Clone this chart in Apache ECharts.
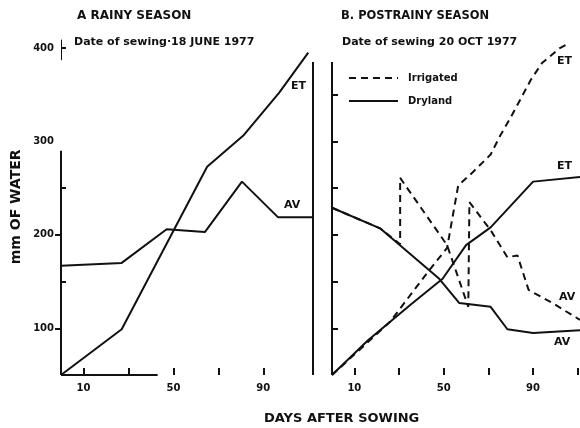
<!DOCTYPE html>
<html>
<head>
<meta charset="utf-8">
<script src="https://cdn.jsdelivr.net/npm/echarts@6/dist/echarts.min.js"></script>
<style>
  html, body { margin: 0; padding: 0; background: #fff; }
  #chart { width: 580px; height: 428px; }
</style>
</head>
<body>
<div id="chart"></div>
<script>
// A: rainy season, [day, mm]
var rainyET = [[0, 50], [27, 99], [65, 273], [81, 306], [97, 352], [110, 395]];
var rainyAV = [[0, 167], [27, 170], [47, 206], [64, 203], [80.5, 257], [96.5, 219], [112, 219]];

// B: postrainy season
var dryET = [[0, 50], [16, 87], [35, 125], [49.5, 153], [60, 189], [71, 208], [90, 257], [111, 262]];
var dryAV = [[0, 229], [21.5, 207], [48, 153], [57, 127], [71, 123], [78.5, 99], [90, 95], [111, 98]];
var irrET = [[0, 50], [26, 107], [42.5, 159], [51.5, 186], [56.5, 253], [63, 267], [71, 286], [75, 305],
             [80.5, 328], [89, 366], [94, 384], [102, 400], [106, 405]];
var irrAV = [[0, 229], [21.5, 207], [30.5, 190], [30.5, 261], [51.5, 189], [61, 123], [61.5, 235],
             [71, 205], [78.5, 176], [83, 178], [88, 141], [98, 128], [111, 109]];

var yLabels = [100, 200, 300, 400];
var xLabels = [10, 50, 90];

var chartDom = document.getElementById('chart');
var myChart = echarts.init(chartDom);

var FONT = 'DejaVu Sans';
var black = '#111';

function txt(x, y, s, size, extra) {
  var o = {
    type: 'text', left: x, top: y,
    style: { text: s, fill: black, font: 'bold ' + size + 'px ' + FONT }
  };
  return Object.assign(o, extra || {});
}

var axisMark = function (data) {
  return {
    symbol: 'none', silent: true, label: { show: false },
    lineStyle: { color: black, width: 2, type: 'solid' },
    emphasis: { disabled: true },
    data: data
  };
};

var solid = { color: black, width: 2, type: 'solid' };
var dashed = { color: black, width: 2, type: [7, 5] };
var tickFont = { color: black, fontWeight: 'bold', fontSize: 10, fontFamily: FONT };

var option = {
  animation: false,
  backgroundColor: '#fff',
  legend: {
    left: 348, top: 73, orient: 'vertical', padding: 0,
    itemWidth: 49, itemHeight: 12, itemGap: 13,
    itemStyle: { opacity: 0 },
    data: ['Irrigated', 'Dryland'],
    textStyle: { color: black, fontWeight: 'bold', fontSize: 10, fontFamily: FONT, padding: [0, 0, 0, 5] }
  },
  grid: [
    { left: 61, width: 254, top: 38.7, bottom: 53 },
    { left: 332, right: 0, top: 38.7, bottom: 53 }
  ],
  xAxis: [
    {
      gridIndex: 0, type: 'value', min: 0, max: 113,
      axisLine: { show: false },
      splitLine: { show: false },
      axisTick: { inside: true, length: 7, lineStyle: { color: black, width: 2 }, customValues: [10, 30, 50, 70, 90] },
      axisLabel: Object.assign({ customValues: xLabels, margin: 8 }, tickFont)
    },
    {
      gridIndex: 1, type: 'value', min: 0, max: 111,
      axisLine: { show: false },
      splitLine: { show: false },
      axisTick: { inside: true, length: 7, lineStyle: { color: black, width: 2 }, customValues: [10, 30, 50, 70, 90, 110] },
      axisLabel: Object.assign({ customValues: xLabels, margin: 8 }, tickFont)
    }
  ],
  yAxis: [
    {
      gridIndex: 0, type: 'value', min: 50, max: 410,
      name: 'mm OF WATER', nameLocation: 'middle', nameRotate: 90, nameGap: 38,
      nameTextStyle: { color: black, fontWeight: 'bold', fontSize: 14, fontFamily: FONT },
      axisLine: { show: false },
      splitLine: { show: false },
      axisTick: { length: 6, lineStyle: { color: black, width: 2 }, customValues: [100, 200] },
      axisLabel: Object.assign({ customValues: yLabels, margin: 7 }, tickFont)
    },
    {
      gridIndex: 0, type: 'value', min: 50, max: 410, position: 'left',
      axisLine: { show: false },
      splitLine: { show: false },
      axisTick: { inside: true, length: 5, lineStyle: { color: black, width: 2 }, customValues: [150, 250, 400] },
      axisLabel: { show: false }
    },
    {
      gridIndex: 1, type: 'value', min: 50, max: 410,
      axisLine: { show: false },
      splitLine: { show: false },
      axisTick: { inside: true, length: 6, lineStyle: { color: black, width: 2 }, customValues: [100, 150, 200, 250, 300, 350] },
      axisLabel: { show: false }
    }
  ],
  series: [
    {
      name: 'rainy ET', type: 'line', xAxisIndex: 0, yAxisIndex: 0, data: rainyET,
      symbol: 'none', clip: false, lineStyle: solid, silent: true,
      markLine: axisMark([
        [{ coord: [0, 50] }, { coord: [0, 290] }],
        [{ coord: [0, 50] }, { coord: [43, 50] }],
        [{ coord: [112, 50] }, { coord: [112, 385] }]
      ])
    },
    {
      name: 'rainy AV', type: 'line', xAxisIndex: 0, yAxisIndex: 0, data: rainyAV,
      symbol: 'none', clip: false, lineStyle: solid, silent: true,
      markLine: {
        symbol: 'none', silent: true, label: { show: false },
        lineStyle: { color: black, width: 1, type: 'solid' },
        data: [[{ coord: [0, 387] }, { coord: [0, 409] }]]
      }
    },
    {
      name: 'Dryland', type: 'line', xAxisIndex: 1, yAxisIndex: 2, data: dryET,
      symbol: 'none', clip: false, lineStyle: solid, itemStyle: { color: black }, silent: true,
      markLine: axisMark([[{ coord: [0, 50] }, { coord: [0, 385] }]])
    },
    {
      name: 'Dryland', type: 'line', xAxisIndex: 1, yAxisIndex: 2, data: dryAV,
      symbol: 'none', clip: false, lineStyle: solid, itemStyle: { color: black }, silent: true
    },
    {
      name: 'Irrigated', type: 'line', xAxisIndex: 1, yAxisIndex: 2, data: irrET,
      symbol: 'none', clip: false, lineStyle: dashed, itemStyle: { color: black }, silent: true
    },
    {
      name: 'Irrigated', type: 'line', xAxisIndex: 1, yAxisIndex: 2, data: irrAV,
      symbol: 'none', clip: false, lineStyle: dashed, itemStyle: { color: black }, silent: true
    }
  ],
  graphic: [
    txt(77, 10, 'A RAINY SEASON', 12),
    txt(74, 37, 'Date of sewing\u00b718 JUNE 1977', 11),
    txt(341, 10, 'B. POSTRAINY SEASON', 11.5),
    txt(342, 37, 'Date of sewing 20 OCT 1977', 11),
    txt(264, 412, 'DAYS AFTER SOWING', 13),
    txt(291, 81, 'ET', 11),
    txt(284, 200, 'AV', 11),
    txt(557, 56, 'ET', 11),
    txt(557, 161, 'ET', 11),
    txt(559, 292, 'AV', 11),
    txt(554, 337, 'AV', 11)
  ]
};

myChart.setOption(option);
</script>
</body>
</html>
